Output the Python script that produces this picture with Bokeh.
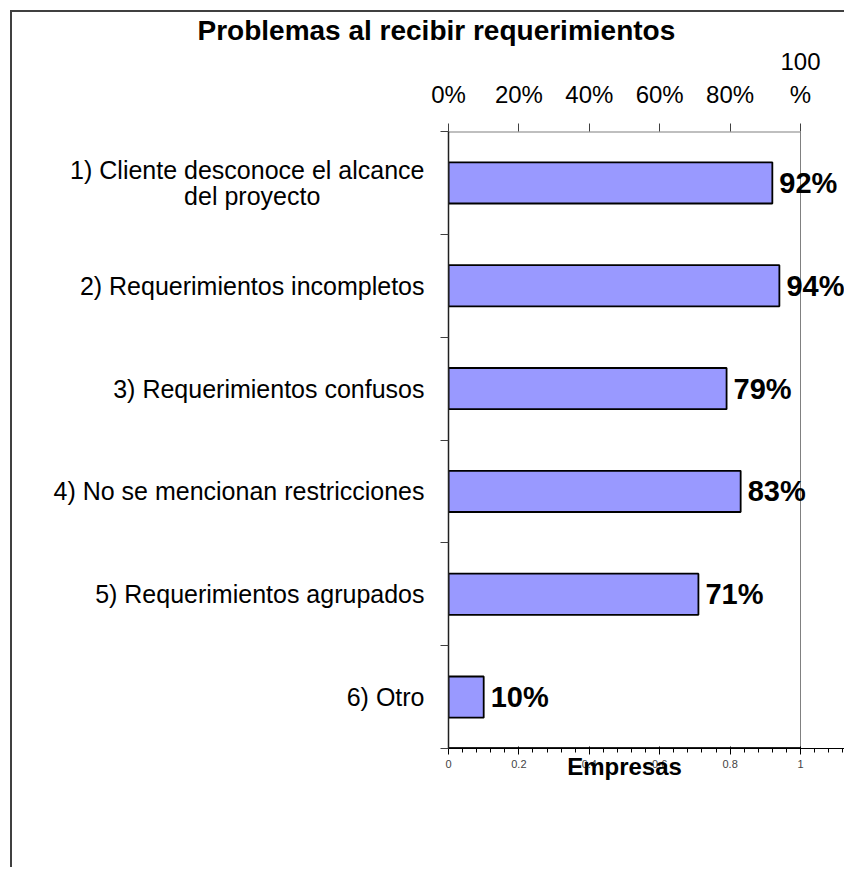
from bokeh.plotting import figure
from bokeh.models import Range1d, FixedTicker, ColumnDataSource, LabelSet, Title, LinearAxis
from bokeh.core.properties import value
from bokeh.embed import file_html
from bokeh.resources import INLINE

# ---- data ----
categories = [
    "1) Cliente desconoce el alcance\ndel proyecto",
    "2) Requerimientos incompletos",
    "3) Requerimientos confusos",
    "4) No se mencionan restricciones",
    "5) Requerimientos agrupados",
    "6) Otro",
]
values = [0.92, 0.94, 0.79, 0.83, 0.71, 0.10]
value_labels = ["92%", "94%", "79%", "83%", "71%", "10%"]
x_ticks = [0, 0.2, 0.4, 0.6, 0.8, 1.0]
x_tick_labels = ["0%", "20%", "40%", "60%", "80%", "100\n%"]
title_text = "Problemas al recibir requerimientos"
x_label = "Empresas"

# ---- layout / style ----
n = len(categories)
ypos = [n - i - 0.5 for i in range(n)]
bounds = list(range(n + 1))

FONT = "Liberation Sans"
ORIGIN = 12                     # canvas origin on page (margin 10 + border 2)
W, H = 834, 857
FRAME_L, FRAME_R_DATA, FRAME_T, FRAME_B = 448, 800, 108, 748
px_per_unit = FRAME_R_DATA - FRAME_L
x_end = (ORIGIN + W - FRAME_L) / px_per_unit


def center_lines(label, pad=15):
    # pad the shorter (second) line with no-break spaces so the block looks centred
    lines = label.split("\n")
    if len(lines) == 1:
        return label
    return "\n".join([lines[0]] + [l + "\u00a0" * pad for l in lines[1:]])


p = figure(width=W, height=H, output_backend="svg", toolbar_location=None,
           x_range=Range1d(0, x_end), y_range=Range1d(0, n),
           min_border_left=FRAME_L - ORIGIN, min_border_right=0,
           min_border_top=FRAME_T - ORIGIN,
           min_border_bottom=H - (FRAME_B - ORIGIN))
p.styles = {"margin-left": "10px", "margin-top": "10px",
            "border-left": "2px solid #404040", "border-top": "2px solid #404040"}
p.background_fill_color = "white"
p.border_fill_color = "white"
p.outline_line_color = None
p.grid.visible = False

# plot-area border (top, right) and bottom axis line, limited to 0..100%
p.segment(x0=[0], y0=[n], x1=[1], y1=[n], line_color="#808080", line_width=2)
p.segment(x0=[1], y0=[0], x1=[1], y1=[n], line_color="#808080", line_width=1)
p.segment(x0=[0], y0=[0], x1=[1], y1=[0], line_color="#202020", line_width=3)

src = ColumnDataSource(dict(y=ypos, v=values, lab=value_labels))
p.hbar(y="y", left=0, right="v", height=0.4, source=src,
       fill_color="#9999FF", line_color="black", line_width=1.8)

labels = LabelSet(x="v", y="y", text="lab", source=src, x_offset=7,
                  text_baseline="middle", text_align="left",
                  text_font=value(FONT), text_font_style="bold",
                  text_font_size="29px", text_color="black")
p.add_layout(labels)

# invisible spacer panel between the plot area and the title
spacer = LinearAxis(ticker=FixedTicker(ticks=[], minor_ticks=[]),
                    axis_line_color=None, major_tick_line_color=None,
                    minor_tick_line_color=None, major_tick_out=39, major_tick_in=0,
                    major_label_text_font_size="0px", major_label_standoff=0)
p.add_layout(spacer, "above")

# title
p.title = Title(text=title_text, align="left", offset=197 - FRAME_L,
                text_font=FONT, text_font_style="bold", text_font_size="28px",
                text_color="black", standoff=0)

# x axis
xa = p.xaxis[0]
xa.ticker = FixedTicker(ticks=x_ticks, minor_ticks=[])
xa.major_label_overrides = dict(zip(x_ticks, x_tick_labels))
xa.major_tick_out = 8
xa.major_tick_in = 0
xa.major_tick_line_color = "#404040"
xa.minor_tick_line_color = None
xa.axis_line_color = None
xa.major_label_text_font = FONT
xa.major_label_text_font_size = "24px"
xa.major_label_text_color = "black"
xa.major_label_standoff = 16

# x axis title as a second (label-only) axis centred on 50%
xt = LinearAxis(ticker=FixedTicker(ticks=[0.5], minor_ticks=[]),
                major_label_overrides={0.5: x_label},
                axis_line_color=None, major_tick_line_color=None,
                minor_tick_line_color=None, major_tick_out=0, major_tick_in=0,
                major_label_standoff=-18,
                major_label_text_font=FONT, major_label_text_font_style="bold",
                major_label_text_font_size="24px", major_label_text_color="black")
p.add_layout(xt, "below")

# y axis
ya = p.yaxis[0]
ya.ticker = FixedTicker(ticks=ypos, minor_ticks=bounds)
ya.major_label_overrides = dict(zip(ypos, [center_lines(c) for c in categories]))
ya.major_tick_line_color = None
ya.major_tick_out = 0
ya.major_tick_in = 0
ya.minor_tick_out = 8
ya.minor_tick_in = 0
ya.minor_tick_line_color = "#404040"
ya.axis_line_color = "#202020"
ya.axis_line_width = 1.5
ya.major_label_text_font = FONT
ya.major_label_text_font_size = "25px"
ya.major_label_text_line_height = 0.95
ya.major_label_text_color = "black"
ya.major_label_standoff = 16

open("out.html", "w").write(file_html(p, INLINE))
